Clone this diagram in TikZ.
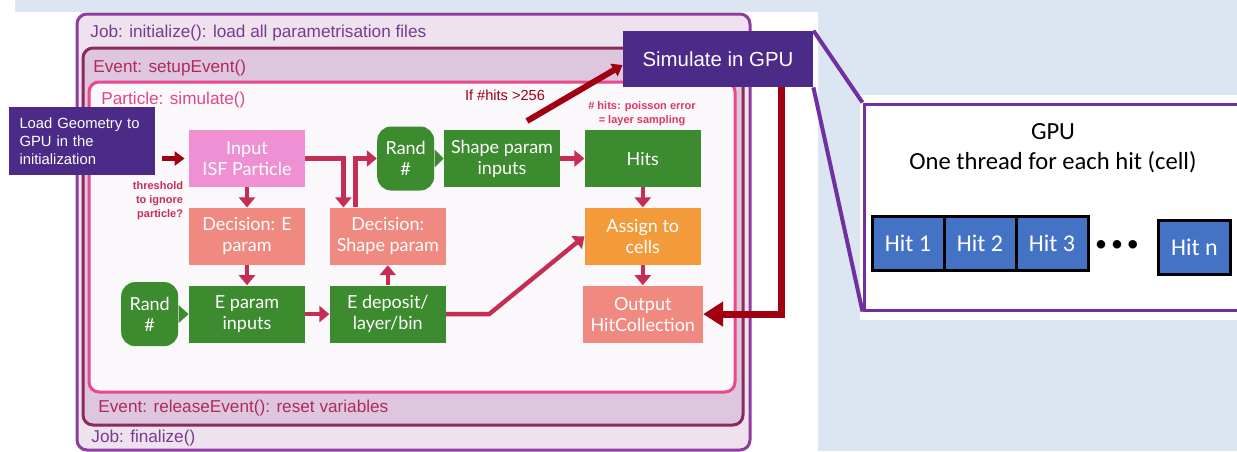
\documentclass[tikz,border=0pt]{standalone}
\usepackage{fontspec}
\setmainfont{Liberation Sans}
\newfontfamily\gillfont{Lato}
\newfontfamily\calfont{Carlito}
\usetikzlibrary{arrows.meta,positioning}

\definecolor{pagebg}{HTML}{DCE6F2}
\definecolor{jobline}{HTML}{8C3D9E}
\definecolor{jobfill}{HTML}{EEE2EF}
\definecolor{jobtext}{HTML}{7A3A8E}
\definecolor{eventline}{HTML}{8B2A5E}
\definecolor{eventfill}{HTML}{DEC6DE}
\definecolor{eventtext}{HTML}{B12A5A}
\definecolor{partline}{HTML}{E9498C}
\definecolor{partfill}{HTML}{FBF8FB}
\definecolor{parttext}{HTML}{E0468A}
\definecolor{gpupurple}{HTML}{4B2A88}
\definecolor{zoomline}{HTML}{7030A0}
\definecolor{simgreen}{HTML}{3D8B2F}
\definecolor{simpink}{HTML}{EE90D3}
\definecolor{simsalmon}{HTML}{F08A80}
\definecolor{simorange}{HTML}{F39A3A}
\definecolor{flowred}{HTML}{C42E55}
\definecolor{darkred}{HTML}{A00010}
\definecolor{notered}{HTML}{D83A60}
\definecolor{hitblue}{HTML}{4472C4}

\begin{document}
\begin{tikzpicture}[
    x=0.5pt, y=-0.5pt,
    node distance=10pt and 12pt,
    block/.style={minimum width=58pt, minimum height=28.5pt, inner sep=1pt,
      align=center, text=white, font=\gillfont\fontsize{9}{10.5}\selectfont},
    greenbox/.style={block, fill=simgreen},
    pinkbox/.style={block, fill=simpink},
    salmonbox/.style={block, fill=simsalmon},
    orangebox/.style={block, fill=simorange},
    randbox/.style={block, fill=simgreen, minimum width=28.5pt,
      minimum height=32pt, rounded corners=7pt},
    framelabel/.style={anchor=west, inner sep=0pt, font=\fontsize{8.6}{10}\selectfont},
    purplebox/.style={fill=gpupurple, text=white, inner sep=0pt},
    hitbox/.style={draw=black, line width=1.5pt, fill=hitblue, text=white,
      minimum width=36pt, minimum height=27pt, outer sep=0pt,
      font=\calfont\fontsize{12}{14}\selectfont},
    flow/.style={-{Triangle[length=5pt,width=8pt]}, flowred, line width=2.2pt},
    bigarrow/.style={-{Triangle[length=10pt,width=12pt]}, darkred, line width=3.5pt},
    smallarrow/.style={-{Triangle[length=5pt,width=7pt]}, darkred, line width=2.5pt}
  ]
    \useasboundingbox (0,0) rectangle (1237,451);
    \fill[pagebg] (0,0) rectangle (1237,451);
    \fill[white] (0,0) -- (15,0) -- (15,12) -- (818,12) -- (818,451) -- (0,451) -- cycle;

    \draw[jobline, fill=jobfill, line width=1.5pt, rounded corners=5pt] (77,14) rectangle (750,450);
    \draw[eventline, fill=eventfill, line width=1.5pt, rounded corners=5pt] (83,48) rectangle (743,425);
    \draw[partline, fill=partfill, line width=1.5pt, rounded corners=5pt] (89,82) rectangle (735,392);
    \node[framelabel, text=jobtext] (jobinit) at (90,33) {Job: initialize(): load all parametrisation files};
    \node[framelabel, text=eventtext] (evsetup) at (93,68) {Event: setupEvent()};
    \node[framelabel, text=parttext] (partsim) at (101,100) {Particle: simulate()};
    \node[framelabel, text=eventtext] (evrelease) at (98,408) {Event: releaseEvent(): reset variables};
    \node[framelabel, text=jobtext] (jobfin) at (91,438) {Job: finalize()};

    \node[pinkbox] (input) at (247,158.5) {Input\\ISF Particle};
    \node[salmonbox, below=of input] (dece) {Decision: E\\param};
    \node[greenbox, below=of dece] (einp) {E param\\inputs};
    \node[salmonbox, right=of dece] (decs) {Decision:\\Shape param};
    \node[greenbox, right=of einp] (edep) {E deposit/\\layer/bin};
    \node[greenbox] (shapep) at (502,158.5) {Shape param\\inputs};
    \node[randbox, left=4.5pt of shapep] (randtop) {Rand\\\#};
    \node[randbox, left=5pt of einp] (randbot) {Rand\\\#};
    \node[greenbox, right=of shapep] (hits) {Hits};
    \node[orangebox, below=of hits] (assign) {Assign to\\cells};
    \node[salmonbox, below=of assign, minimum width=60pt] (output) {Output\\HitCollection};
    \fill[simgreen] ([yshift=4.5pt]randtop.east) -- (randtop.east -| shapep.west) -- ([yshift=-4.5pt]randtop.east);
    \fill[simgreen] ([yshift=4.5pt]randbot.east) -- (randbot.east -| einp.west) -- ([yshift=-4.5pt]randbot.east);

    \node[purplebox, align=left, text width=62pt, inner xsep=5.5pt, minimum height=34pt,
      font=\fontsize{7.4}{9}\selectfont] (geo) at (81.5,141) {Load Geometry to\\GPU in the\\initialization};
    \node[purplebox, minimum width=95pt, minimum height=28pt,
      font=\fontsize{10.2}{12}\selectfont] (gpusim) at (718,59) {Simulate in GPU};

    \node[text=darkred, font=\fontsize{7.3}{9}\selectfont] (iflabel) at (505,95) {If \#hits >256};
    \node[text=notered, align=center, font=\bfseries\fontsize{5.5}{7}\selectfont] (hitnote) at (642,114) {\# hits: poisson error\\= layer sampling};
    \node[text=flowred, align=right, font=\bfseries\fontsize{5.5}{7}\selectfont] (thresh) at (158,201) {threshold\\to ignore\\particle?};

    \draw[flow] (input) -- (dece);
    \draw[flow] (dece) -- (einp);
    \draw[flow] (einp) -- (edep);
    \draw[flow] (edep) -- (decs);
    \draw[flow] (input.east) -| ([xshift=7pt]decs.north west);
    \draw[flow] ([xshift=13pt]decs.north west) |- (randtop.west);
    \draw[flow] (shapep) -- (hits);
    \draw[flow] (hits) -- (assign);
    \draw[flow] (assign) -- (output);
    \draw[flow] (edep.east) -- ++(21.5pt,0) -- (assign.west);

    \coordinate (ifstart) at (527,121);
    \path (geo.east |- input.west) coordinate (loadstart);
    \draw[smallarrow] ([xshift=3.5pt]loadstart) -- ([xshift=-2pt]input.west);
    \draw[smallarrow, line width=3pt] (ifstart) -- ([yshift=-3pt]gpusim.west);
    \draw[bigarrow] ([xshift=-16pt]gpusim.south east) |- (output.east);

    \fill[white] (860,95) rectangle (1237,320);
    \node[draw=zoomline, fill=white, line width=1.5pt, minimum width=190.5pt,
      minimum height=103pt] (panel) at (1054.5,207) {};
    \draw[zoomline, line width=2pt] (gpusim.north east) -- (panel.north west);
    \draw[zoomline, line width=2pt] (gpusim.south east) -- (panel.south west);
    \node[align=center, font=\calfont\fontsize{12.3}{15}\selectfont] (gputext) at (1053,148) {GPU\\One thread for each hit (cell)};
    \node[hitbox] (hit1) at (908,243) {Hit 1};
    \node[hitbox, right=0pt of hit1] (hit2) {Hit 2};
    \node[hitbox, right=0pt of hit2] (hit3) {Hit 3};
    \node[font=\calfont\fontsize{12}{14}\selectfont] (dots) at (1117,246) {\textbullet\,\textbullet\,\textbullet};
    \node[hitbox] (hitn) at (1194.5,247) {Hit n};
  \end{tikzpicture}
\end{document}
